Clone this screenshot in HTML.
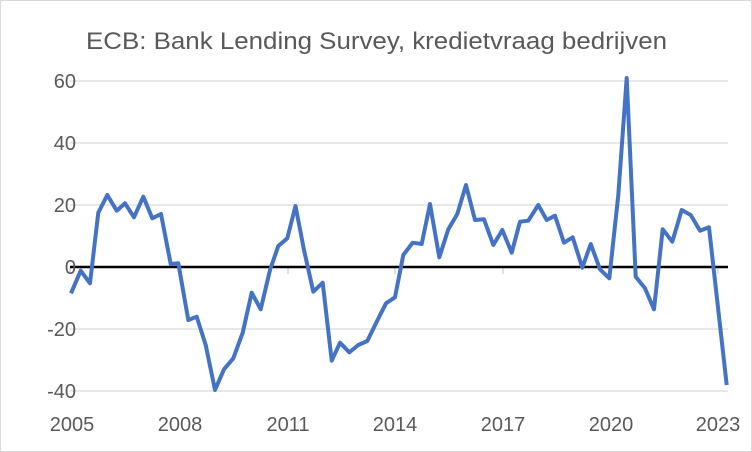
<!DOCTYPE html>
<html><head><meta charset="utf-8"><style>
html,body{margin:0;padding:0;background:#fff}
svg{display:block}
text{font-family:"Liberation Sans",sans-serif;fill:#595959}
</style></head><body>
<svg width="752" height="452" viewBox="0 0 752 452">
<rect x="0.5" y="0.5" width="751" height="451" fill="#fff" stroke="#d9d9d9"/>
<text x="86" y="49" font-size="24" textLength="581" lengthAdjust="spacingAndGlyphs">ECB: Bank Lending Survey, kredietvraag bedrijven</text>
<g stroke="#d9d9d9" stroke-width="1.3">
<line x1="70" y1="81" x2="728" y2="81"/>
<line x1="70" y1="143" x2="728" y2="143"/>
<line x1="70" y1="205" x2="728" y2="205"/>
<line x1="70" y1="329" x2="728" y2="329"/>
<line x1="70" y1="391" x2="728" y2="391"/>
</g>
<g stroke="#bfbfbf" stroke-width="1">
<line x1="70" y1="267" x2="70" y2="274"/>
<line x1="180" y1="267" x2="180" y2="274"/>
<line x1="288" y1="267" x2="288" y2="274"/>
<line x1="395" y1="267" x2="395" y2="274"/>
<line x1="503" y1="267" x2="503" y2="274"/>
<line x1="611" y1="267" x2="611" y2="274"/>
<line x1="718" y1="267" x2="718" y2="274"/>
</g>
<line x1="70" y1="267" x2="728" y2="267" stroke="#000" stroke-width="2.5"/>
<g font-size="20" text-anchor="end">
<text x="76" y="88">60</text>
<text x="76" y="150">40</text>
<text x="76" y="212">20</text>
<text x="76" y="274">0</text>
<text x="76" y="336">-20</text>
<text x="76" y="398">-40</text>
</g>
<g font-size="20" text-anchor="middle">
<text x="72" y="431">2005</text>
<text x="180" y="431">2008</text>
<text x="288" y="431">2011</text>
<text x="395" y="431">2014</text>
<text x="503" y="431">2017</text>
<text x="611" y="431">2020</text>
<text x="718" y="431">2023</text>
</g>
<polyline fill="none" stroke="#4472c4" stroke-width="4" stroke-linejoin="round" points="71,293.3 80.7,270.7 90,283.3 98.3,212.7 107.3,195 116.7,210.7 125,203.3 134,217.3 143.3,196.7 152.3,218.3 161,214 170.7,264 178.3,263.3 188.3,320 196.7,316.7 205.7,345 215,390 224,369.3 233.3,358.3 242.7,332.7 251.7,292.7 260.7,309.3 270,270 278.3,246 287.3,238.3 295.5,206 304,250 313.3,291.7 322.7,282.7 331.7,360.7 340,342.7 349.3,352.3 358.3,345 367.3,341 376.7,321.7 386,303.3 395,297.3 403.3,255 412.7,242.7 421.7,244 430,204 439.3,257.3 448.3,229.3 457.3,214 466,185 475,220 484,219.3 493.3,245 502.3,230 511.7,252.7 520,221.7 528.3,220.7 538.3,205 546.7,220 555,215.7 564,242.7 572.7,237.3 582.3,267.7 590.7,244 600,269.3 609.3,278.3 618.3,195 626.7,78 635.7,276.7 645,288.3 654,309.3 662.7,229.3 672.3,241.7 681.7,210 690.7,215 700,230.7 709,227.3 726.7,385"/>
</svg>
</body></html>
